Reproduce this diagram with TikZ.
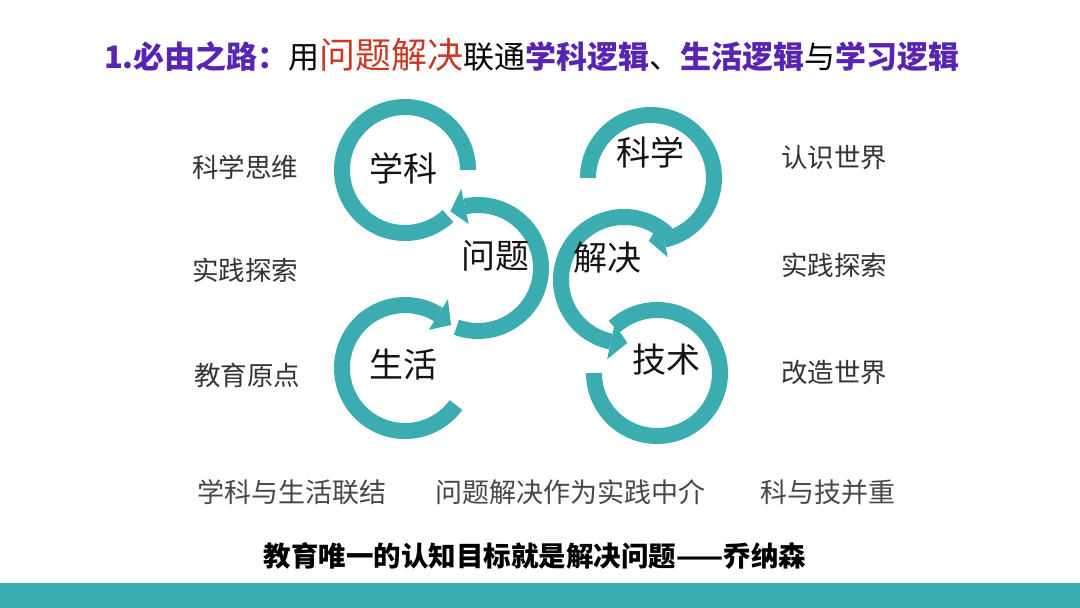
\documentclass[tikz,border=0pt]{standalone}
\usepackage{fontspec}
\setmainfont{Noto Sans CJK SC}
\usetikzlibrary{calc}
\definecolor{teal1}{RGB}{59,173,176}
\definecolor{purp}{RGB}{88,36,178}
\definecolor{redt}{RGB}{200,58,38}
\newcommand\ringband[3]{\draw[band] ($(#1)+(#2:63pt)$) arc[start angle=#2,end angle=#3,radius=63pt];}
\newcommand\ringhead[3]{\fill[head] ($(#1)+(#2:45pt)$) -- ($(#1)+(#2:81pt)$) -- ($(#1)+(#3:63pt)$) -- cycle;}
\begin{document}
\begin{tikzpicture}[x=1pt,y=1pt,
  band/.style={draw=teal1,line width=16pt,line cap=butt},
  head/.style={fill=teal1,draw=none},
  ringlbl/.style={font=\fontsize{34}{34}\selectfont,text=black!92,inner sep=0},
  sidelbl/.style={font=\fontsize{26.5}{26.5}\selectfont,text=black!80,inner sep=0},
  botlbl/.style={font=\fontsize{27}{27}\selectfont,text=black!72,inner sep=0}]
\useasboundingbox (0,0) rectangle (1080,608);
\fill[white] (0,0) rectangle (1080,608);
\fill[teal1] (0,0) rectangle (1080,25);
% ring centres
\coordinate (c1) at (405,438);
\coordinate (c2) at (478,340);
\coordinate (c3) at (405,240);
\coordinate (c4) at (651,430);
\coordinate (c5) at (624,328);
\coordinate (c6) at (657,235);
% rings
\ringband{c1}{0}{313}
\ringband{c2}{250}{462}
\ringhead{c2}{462}{476}
\ringband{c3}{-36}{-302}
\ringhead{c3}{-302}{-317}
\ringband{c5}{47}{258}
\ringhead{c5}{258}{273}
\ringband{c4}{180}{-78}
\ringhead{c4}{-78}{-92}
\ringband{c6}{180}{493}
% title
\node[inner sep=0] (title) at (532,553) {\fontsize{31}{31}\selectfont{\bfseries\color{purp}1.必由之路：}{\color{black}用}{\color{redt}\fontsize{36}{36}\selectfont 问题解决}{\color{black}联通}{\bfseries\color{purp}学科逻辑}{\color{black}、}{\bfseries\color{purp}生活逻辑}{\color{black}与}{\bfseries\color{purp}学习逻辑}};
% ring labels
\node[ringlbl] (xk) at (403,440) {学科};
\node[ringlbl] (wt) at (495,352) {问题};
\node[ringlbl] (sh) at (403,243) {生活};
\node[ringlbl] (kx) at (650,456) {科学};
\node[ringlbl] (jj) at (607,350) {解决};
\node[ringlbl] (js) at (666,248) {技术};
% side labels
\node[sidelbl] (l1) at (245,441) {科学思维};
\node[sidelbl] (l2) at (245,338) {实践探索};
\node[sidelbl] (l3) at (247,233) {教育原点};
\node[sidelbl] (r1) at (834,450) {认识世界};
\node[sidelbl] (r2) at (834,343) {实践探索};
\node[sidelbl] (r3) at (834,235) {改造世界};
% bottom row
\node[botlbl] (b1) at (292,116) {学科与生活联结};
\node[botlbl] (b2) at (570,116) {问题解决作为实践中介};
\node[botlbl] (b3) at (828,116) {科与技并重};
% quote
\node[inner sep=0,font=\bfseries\fontsize{27.5}{27.5}\selectfont] (quote) at (535,52) {教育唯一的认知目标就是解决问题——乔纳森};
\end{tikzpicture}
\end{document}
